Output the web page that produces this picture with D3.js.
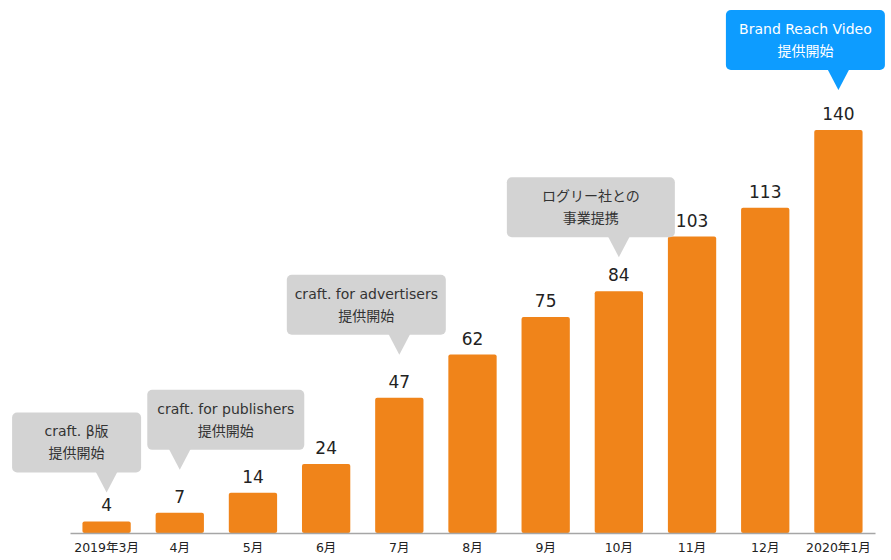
<!DOCTYPE html>
<html>
<head>
<meta charset="utf-8">
<script src="https://cdn.jsdelivr.net/npm/d3@7"></script>
<style>
  body { margin: 0; background: #fff; }
  svg text { font-family: "DejaVu Sans", "Noto Sans CJK JP", sans-serif; }
</style>
</head>
<body>
<div id="chart"></div>
<script>
// data
const months = ['2019年3月', '4月', '5月', '6月', '7月', '8月', '9月', '10月', '11月', '12月', '2020年1月'];
const counts = [4, 7, 14, 24, 47, 62, 75, 84, 103, 113, 140];

// callouts: which month + text lines
const noteMonths = ['2019年3月', '4月', '7月', '10月', '2020年1月'];
const noteLines = [
    ['craft. β版', '提供開始'],
    ['craft. for publishers', '提供開始'],
    ['craft. for advertisers', '提供開始'],
    ['ログリー社との', '事業提携'],
    ['Brand Reach Video', '提供開始']
];
const noteHighlight = [false, false, false, false, true];

// callout layout (tip above bar top, box width, box shift from tip)
const noteTipGap = [29, 43, 43, 34, 40];
const noteWidth = [129, 157, 159, 168, 159];
const noteShift = [-30, 46, -33, -28, -33];

const W = 891, H = 560;
const baseY = 533;

const svg = d3.select('#chart').append('svg')
    .attr('width', W)
    .attr('height', H);

const x = d3.scaleBand()
    .domain(months)
    .range([70, 875])
    .paddingInner(0.34)
    .paddingOuter(0.17);

const y = d3.scaleLinear()
    .domain([0, 140])
    .range([baseY, 130]);

// bars
svg.append('g')
    .selectAll('rect')
    .data(counts)
    .join('rect')
    .attr('x', (d, i) => x(months[i]))
    .attr('y', d => y(d))
    .attr('width', x.bandwidth())
    .attr('height', d => baseY - y(d))
    .attr('rx', 2)
    .attr('fill', '#f0841a');

// value labels
svg.append('g')
    .selectAll('text')
    .data(counts)
    .join('text')
    .attr('x', (d, i) => x(months[i]) + x.bandwidth() / 2)
    .attr('y', d => y(d) - 10)
    .attr('text-anchor', 'middle')
    .attr('font-size', 17)
    .attr('fill', '#222')
    .text(d => d);

// x axis
const axis = svg.append('g')
    .attr('transform', 'translate(0,' + baseY + ')')
    .call(d3.axisBottom(x).tickSize(0).tickPadding(10));
axis.select('.domain').attr('stroke', '#a6a6a6').attr('stroke-width', 1.5);
axis.selectAll('text')
    .attr('font-size', 12.5)
    .attr('fill', '#222');

// callouts
const notes = svg.append('g');
noteMonths.forEach((m, i) => {
    const v = counts[months.indexOf(m)];
    const tipX = x(m) + x.bandwidth() / 2;
    const tipY = y(v) - noteTipGap[i];
    const boxH = 60;
    const boxBottom = tipY - 20;
    const boxTop = boxBottom - boxH;
    const cx = tipX + noteShift[i];
    const fill = noteHighlight[i] ? '#0d9cff' : '#d3d3d3';
    const txt = noteHighlight[i] ? '#ffffff' : '#333';

    notes.append('rect')
        .attr('x', cx - noteWidth[i] / 2)
        .attr('y', boxTop)
        .attr('width', noteWidth[i])
        .attr('height', boxH)
        .attr('rx', 5)
        .attr('fill', fill);
    notes.append('path')
        .attr('d', 'M' + (tipX - 11) + ',' + (boxBottom - 1) + 'L' + (tipX + 11) + ',' + (boxBottom - 1) + 'L' + tipX + ',' + tipY + 'Z')
        .attr('fill', fill);
    notes.append('g')
        .selectAll('text')
        .data(noteLines[i])
        .join('text')
        .attr('x', cx)
        .attr('y', (d, j) => boxTop + 24 + j * 22)
        .attr('text-anchor', 'middle')
        .attr('font-size', 14)
        .attr('fill', txt)
        .text(d => d);
});
</script>
</body>
</html>
